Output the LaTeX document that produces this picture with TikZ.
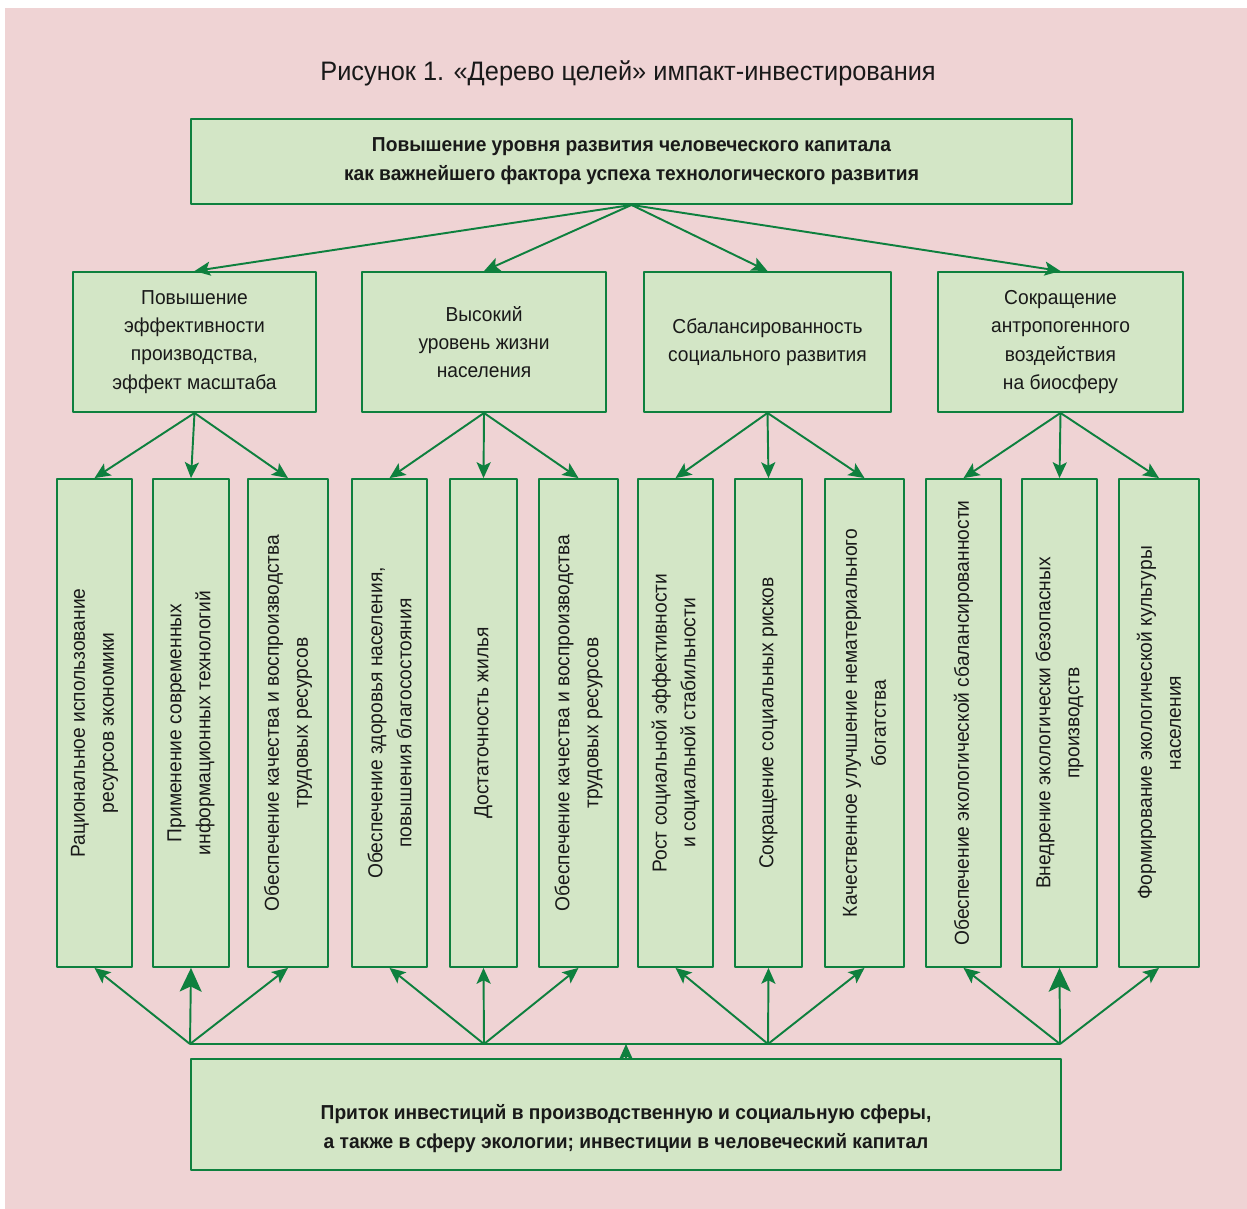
\documentclass[tikz,border=0pt]{standalone}
\usepackage{fontspec}
\setmainfont[FakeStretch=0.95]{Liberation Sans}
\usetikzlibrary{arrows.meta}
\definecolor{bgpink}{RGB}{239,211,212}
\definecolor{boxgreen}{RGB}{211,230,198}
\definecolor{linegreen}{RGB}{14,128,62}
\tikzset{
  goalbox/.style={draw=linegreen, fill=boxgreen, line width=1.1pt, inner sep=0pt,
    align=center, text=black!90, font=\fontsize{11.5}{16}\selectfont},
  leafbox/.style={goalbox, minimum height=9.76cm},
  midbox/.style={goalbox, minimum height=2.8cm},
  vtext/.style={rotate=90, align=center, text=black!90, font=\fontsize{11.5}{16.5}\selectfont},
  link/.style={draw=linegreen, line width=1.1pt, -{Stealth[length=9pt,width=8pt,inset=2pt]}},
  biglink/.style={link, -{Stealth[length=13.5pt,width=12.5pt,inset=3pt]}},
}
\begin{document}
\begin{tikzpicture}[x=0.02cm, y=-0.02cm, line join=round]
	\useasboundingbox (0,0) rectangle (1247,1209);
	\fill[bgpink] (5,8) rectangle (1247,1209);
	\node[text=black!90, font=\fontsize{15.2}{18}\selectfont] (title) at (628,73)
	{Рисунок 1. «Дерево целей» импакт-инвестирования};
	% goal
	\node[goalbox, minimum width=17.62cm, minimum height=1.7cm, font=\fontsize{11.5}{16.5}\selectfont\bfseries] (goal) at (631.5,161.5)
	{Повышение уровня развития человеческого капитала\\как важнейшего фактора успеха технологического развития};
	% second level
	\node[midbox, minimum width=4.86cm] (eff) at (194.5,342)
	{Повышение\\эффективности\\производства,\\эффект масштаба};
	\node[midbox, minimum width=4.88cm] (life) at (484,342)
	{Высокий\\уровень жизни\\населения};
	\node[midbox, minimum width=4.94cm] (soc) at (767.5,342)
	{Сбалансированность\\социального развития};
	\node[midbox, minimum width=4.9cm] (eco) at (1060.5,342)
	{Сокращение\\антропогенного\\воздействия\\на биосферу};
	\draw[link] (goal.south) -- (eff.north);
	\draw[link] (goal.south) -- (life.north);
	\draw[link] (goal.south) -- (soc.north);
	\draw[link] (goal.south) -- (eco.north);
	% third level
	\node[leafbox, minimum width=1.5cm] (e1) at (94.5,723) {};
	\node[leafbox, minimum width=1.52cm] (e2) at (191,723) {};
	\node[leafbox, minimum width=1.6cm] (e3) at (288,723) {};
	\node[leafbox, minimum width=1.5cm] (l1) at (389.5,723) {};
	\node[leafbox, minimum width=1.34cm] (l2) at (483.5,723) {};
	\node[leafbox, minimum width=1.58cm] (l3) at (578.5,723) {};
	\node[leafbox, minimum width=1.5cm] (s1) at (675.5,723) {};
	\node[leafbox, minimum width=1.34cm] (s2) at (768.5,723) {};
	\node[leafbox, minimum width=1.58cm] (s3) at (864.5,723) {};
	\node[leafbox, minimum width=1.5cm] (b1) at (963.5,723) {};
	\node[leafbox, minimum width=1.5cm] (b2) at (1059.5,723) {};
	\node[leafbox, minimum width=1.6cm] (b3) at (1159,723) {};
	\path
	(e1) node[vtext]{Рациональное использование\\ресурсов экономики}
	(e2) node[vtext]{Применение современных\\информационных технологий}
	(e3) node[vtext]{Обеспечение качества и воспроизводства\\трудовых ресурсов}
	(l1) node[vtext]{Обеспечение здоровья населения,\\повышения благосостояния}
	(l2) node[vtext]{Достаточность жилья}
	(l3) node[vtext]{Обеспечение качества и воспроизводства\\трудовых ресурсов}
	(s1) node[vtext]{Рост социальной эффективности\\и социальной стабильности}
	(s2) node[vtext]{Сокращение социальных рисков}
	(s3) node[vtext]{Качественное улучшение нематериального\\богатства}
	(b1) node[vtext]{Обеспечение экологической сбалансированности}
	(b2) node[vtext]{Внедрение экологически безопасных\\производств}
	(b3) node[vtext]{Формирование экологической культуры\\населения}
	;
	\draw[link] (eff.south) -- (e1.north);
	\draw[link] (eff.south) -- (e2.north);
	\draw[link] (eff.south) -- (e3.north);
	\draw[link] (life.south) -- (l1.north);
	\draw[link] (life.south) -- (l2.north);
	\draw[link] (life.south) -- (l3.north);
	\draw[link] (soc.south) -- (s1.north);
	\draw[link] (soc.south) -- (s2.north);
	\draw[link] (soc.south) -- (s3.north);
	\draw[link] (eco.south) -- (b1.north);
	\draw[link] (eco.south) -- (b2.north);
	\draw[link] (eco.south) -- (b3.north);
	% investments
	\node[goalbox, minimum width=17.4cm, minimum height=2.22cm] (inv) at (626,1114.5) {};
	\node[text=black!90, align=center, font=\fontsize{11.5}{16.5}\selectfont\bfseries] at (626,1129)
	{Приток инвестиций в производственную и социальную сферы,\\а также в сферу экологии; инвестиции в человеческий капитал};
	\coordinate (j1) at (190,1044);
	\coordinate (j2) at (484,1044);
	\coordinate (j3) at (768,1044);
	\coordinate (j4) at (1060,1044);
	\draw[linegreen, line width=1.1pt] (j1) -- (j4);
	\draw[link] (inv.north) -- (inv.north |- j1);
	\draw[link] (j1) -- (e1.south);
	\draw[biglink] (j1) -- (e2.south);
	\draw[link] (j1) -- (e3.south);
	\draw[link] (j2) -- (l1.south);
	\draw[link] (j2) -- (l2.south);
	\draw[link] (j2) -- (l3.south);
	\draw[link] (j3) -- (s1.south);
	\draw[link] (j3) -- (s2.south);
	\draw[link] (j3) -- (s3.south);
	\draw[link] (j4) -- (b1.south);
	\draw[biglink] (j4) -- (b2.south);
	\draw[link] (j4) -- (b3.south);
\end{tikzpicture}
\end{document}
